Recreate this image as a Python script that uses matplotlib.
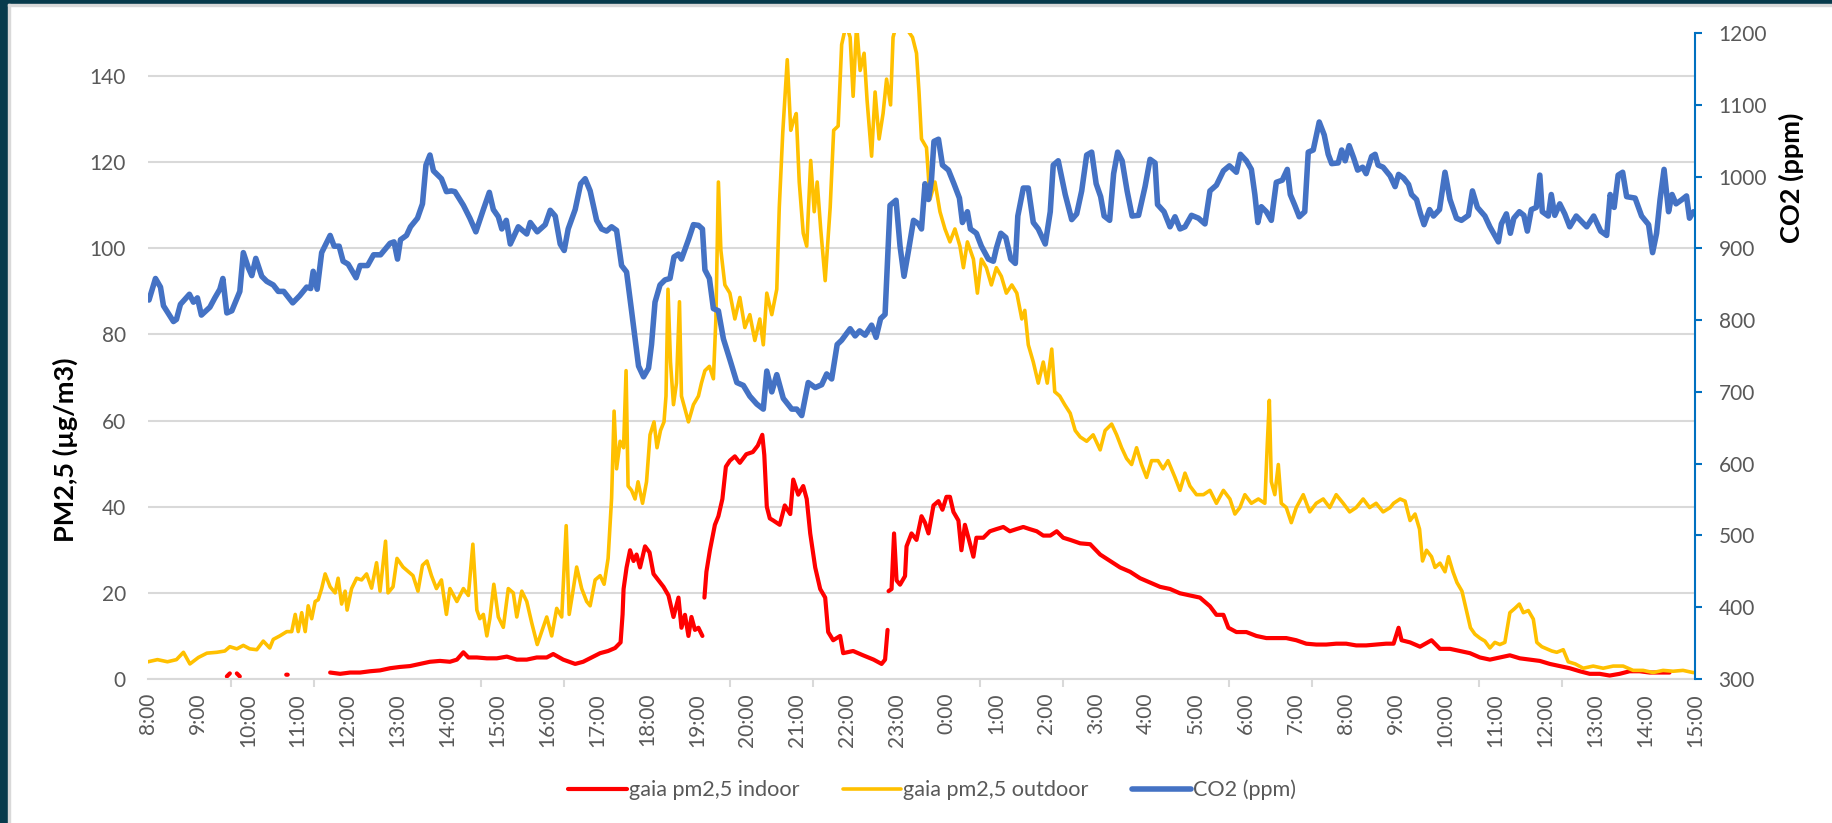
import numpy as np
import matplotlib
matplotlib.use("Agg")
from matplotlib import pyplot as plt
from matplotlib.patches import Rectangle

# time axis: hours after 8:00 (day 1) up to 15:00 (day 2)
hour_labels = ["8:00", "9:00", "10:00", "11:00", "12:00", "13:00", "14:00", "15:00",
               "16:00", "17:00", "18:00", "19:00", "20:00", "21:00", "22:00", "23:00",
               "0:00", "1:00", "2:00", "3:00", "4:00", "5:00", "6:00", "7:00",
               "8:00", "9:00", "10:00", "11:00", "12:00", "13:00", "14:00", "15:00"]

# CO2 (ppm), right axis
co2_t = [0.02, 0.15, 0.25, 0.31, 0.51, 0.57, 0.65, 0.83, 0.91, 0.99, 1.07, 1.24, 1.34, 1.44, 1.5, 1.58,
         1.68, 1.84, 1.91, 2.01, 2.08, 2.16, 2.28, 2.38, 2.51, 2.61, 2.72, 2.9, 3.04, 3.18, 3.26, 3.31,
         3.39, 3.48, 3.65, 3.73, 3.83, 3.91, 4.01, 4.17, 4.25, 4.4, 4.52, 4.66, 4.85, 4.93, 5.0, 5.06,
         5.18, 5.26, 5.4, 5.5, 5.57, 5.65, 5.72, 5.88, 5.98, 6.08, 6.15, 6.32, 6.45, 6.57, 6.72, 6.84,
         6.92, 7.02, 7.09, 7.18, 7.26, 7.42, 7.59, 7.66, 7.8, 7.96, 8.06, 8.16, 8.26, 8.34, 8.42, 8.56,
         8.67, 8.76, 8.86, 8.99, 9.09, 9.19, 9.29, 9.39, 9.49, 9.59, 9.69, 9.83, 9.93, 10.03, 10.09, 10.16,
         10.26, 10.36, 10.46, 10.54, 10.63, 10.69, 10.83, 10.93, 11.03, 11.11, 11.16, 11.25, 11.33, 11.43, 11.53, 11.66,
         11.8, 11.93, 12.06, 12.2, 12.33, 12.4, 12.5, 12.6, 12.73, 12.9, 13.0, 13.1, 13.23, 13.37, 13.5, 13.6,
         13.7, 13.81, 13.9, 14.07, 14.17, 14.26, 14.37, 14.5, 14.59, 14.68, 14.77, 14.87, 14.99, 15.07, 15.15, 15.24,
         15.34, 15.44, 15.5, 15.57, 15.64, 15.7, 15.75, 15.84, 15.92, 16.04, 16.15, 16.26, 16.32, 16.42, 16.48, 16.6,
         16.7, 16.84, 16.94, 17.0, 17.09, 17.19, 17.29, 17.38, 17.43, 17.54, 17.64, 17.74, 17.84, 17.98, 18.08, 18.14,
         18.24, 18.38, 18.51, 18.61, 18.71, 18.81, 18.91, 19.0, 19.09, 19.16, 19.27, 19.35, 19.43, 19.52, 19.62, 19.72,
         19.85, 19.98, 20.08, 20.18, 20.23, 20.36, 20.48, 20.58, 20.68, 20.78, 20.91, 21.05, 21.18, 21.28, 21.41, 21.55,
         21.67, 21.81, 21.89, 22.01, 22.11, 22.18, 22.24, 22.31, 22.41, 22.51, 22.61, 22.73, 22.83, 22.89, 22.98, 23.07,
         23.18, 23.25, 23.35, 23.47, 23.57, 23.65, 23.72, 23.85, 23.92, 23.99, 24.07, 24.16, 24.24, 24.34, 24.41, 24.52,
         24.59, 24.65, 24.75, 24.89, 24.99, 25.06, 25.16, 25.26, 25.32, 25.42, 25.5, 25.57, 25.68, 25.76, 25.88, 25.99,
         26.09, 26.22, 26.32, 26.46, 26.54, 26.64, 26.79, 26.89, 27.06, 27.12, 27.22, 27.3, 27.37, 27.48, 27.57, 27.64,
         27.72, 27.82, 27.89, 27.94, 28.06, 28.12, 28.19, 28.29, 28.39, 28.49, 28.62, 28.83, 28.97, 29.11, 29.23, 29.3,
         29.38, 29.46, 29.55, 29.63, 29.8, 29.93, 30.07, 30.15, 30.23, 30.3, 30.38, 30.47, 30.54, 30.62, 30.74, 30.83,
         30.89, 30.97]
co2_ppm = [828, 858, 846, 820, 798, 801, 822, 836, 825, 831, 807, 818, 831, 843, 858, 810,
           813, 840, 894, 873, 862, 886, 861, 854, 849, 840, 840, 824, 834, 846, 844, 868,
           843, 894, 918, 903, 903, 882, 878, 859, 876, 876, 891, 891, 907, 909, 885, 912,
           918, 930, 942, 962, 1016, 1030, 1008, 997, 979, 980, 979, 960, 942, 923, 954, 978,
           954, 944, 927, 939, 906, 930, 920, 936, 923, 933, 953, 945, 906, 897, 927, 954,
           990, 997, 980, 939, 927, 924, 930, 925, 876, 867, 813, 736, 721, 733, 766, 825,
           849, 856, 858, 888, 892, 885, 912, 933, 932, 927, 870, 858, 816, 813, 774, 745,
           713, 709, 694, 683, 676, 729, 700, 724, 691, 676, 676, 667, 713, 706, 710, 725,
           718, 766, 772, 788, 778, 785, 779, 793, 776, 802, 808, 960, 967, 903, 861, 897,
           939, 934, 927, 990, 968, 996, 1049, 1052, 1016, 1009, 990, 970, 936, 951, 927, 921,
           903, 885, 882, 900, 921, 915, 885, 879, 945, 984, 984, 936, 927, 906, 951, 1016,
           1022, 975, 940, 948, 980, 1030, 1034, 990, 972, 945, 939, 1004, 1034, 1022, 980, 945,
           946, 986, 1024, 1019, 961, 951, 930, 944, 927, 930, 946, 942, 934, 980, 988, 1008,
           1015, 1006, 1031, 1022, 1010, 975, 936, 958, 951, 939, 992, 995, 1010, 975, 960, 944,
           951, 1034, 1037, 1076, 1058, 1031, 1018, 1019, 1037, 1022, 1043, 1026, 1009, 1013, 1004, 1028,
           1031, 1016, 1013, 1001, 986, 1003, 998, 989, 975, 968, 948, 933, 954, 945, 954, 1006,
           968, 942, 939, 946, 980, 957, 945, 930, 909, 934, 948, 921, 942, 951, 946, 924,
           954, 957, 1002, 951, 945, 975, 946, 962, 948, 930, 945, 930, 945, 924, 918, 975,
           957, 1002, 1006, 972, 970, 945, 933, 894, 921, 968, 1010, 951, 975, 962, 968, 973,
           942, 951]

# gaia pm2,5 outdoor (ug/m3)
out_t = [0.0, 0.19, 0.39, 0.57, 0.71, 0.84, 1.01, 1.18, 1.38, 1.54, 1.64, 1.78, 1.91, 2.04, 2.18, 2.31,
         2.44, 2.51, 2.64, 2.78, 2.88, 2.95, 3.01, 3.08, 3.15, 3.21, 3.28, 3.35, 3.41, 3.48, 3.55, 3.65,
         3.75, 3.81, 3.88, 3.95, 3.99, 4.08, 4.18, 4.28, 4.38, 4.48, 4.58, 4.65, 4.76, 4.81, 4.91, 4.99,
         5.11, 5.21, 5.31, 5.41, 5.5, 5.59, 5.68, 5.78, 5.88, 5.98, 6.05, 6.19, 6.32, 6.42, 6.51, 6.59,
         6.65, 6.72, 6.79, 6.85, 6.93, 7.02, 7.12, 7.22, 7.32, 7.39, 7.49, 7.59, 7.69, 7.8, 7.89, 7.99,
         8.09, 8.19, 8.29, 8.38, 8.44, 8.51, 8.59, 8.69, 8.79, 8.86, 8.96, 9.06, 9.14, 9.22, 9.29, 9.34,
         9.39, 9.46, 9.53, 9.58, 9.62, 9.69, 9.76, 9.82, 9.91, 9.99, 10.06, 10.14, 10.2, 10.27, 10.34, 10.38,
         10.42, 10.47, 10.53, 10.59, 10.65, 10.69, 10.76, 10.83, 10.93, 11.03, 11.09, 11.16, 11.25, 11.33, 11.38, 11.43,
         11.48, 11.56, 11.66, 11.76, 11.86, 11.96, 12.06, 12.16, 12.26, 12.33, 12.4, 12.5, 12.6, 12.65, 12.72, 12.81,
         12.88, 12.93, 12.99, 13.05, 13.13, 13.2, 13.28, 13.35, 13.41, 13.48, 13.57, 13.67, 13.74, 13.83, 13.9, 13.99,
         14.07, 14.13, 14.2, 14.27, 14.35, 14.41, 14.5, 14.57, 14.65, 14.73, 14.8, 14.88, 14.93, 15.0, 15.14, 15.32,
         15.4, 15.45, 15.5, 15.6, 15.67, 15.77, 15.87, 15.97, 16.07, 16.17, 16.27, 16.34, 16.42, 16.54, 16.62, 16.7,
         16.8, 16.9, 17.0, 17.1, 17.2, 17.31, 17.41, 17.51, 17.57, 17.64, 17.74, 17.84, 17.94, 18.02, 18.11, 18.17,
         18.27, 18.37, 18.48, 18.58, 18.68, 18.81, 18.94, 19.08, 19.18, 19.31, 19.41, 19.51, 19.61, 19.71, 19.81, 19.91,
         20.01, 20.11, 20.24, 20.34, 20.44, 20.58, 20.68, 20.78, 20.88, 21.01, 21.15, 21.28, 21.41, 21.55, 21.68, 21.78,
         21.88, 21.98, 22.11, 22.25, 22.38, 22.43, 22.47, 22.51, 22.58, 22.65, 22.71, 22.81, 22.91, 23.01, 23.15, 23.28,
         23.41, 23.55, 23.68, 23.81, 23.95, 24.08, 24.21, 24.35, 24.48, 24.61, 24.75, 24.89, 24.96, 25.09, 25.19, 25.29,
         25.39, 25.48, 25.54, 25.62, 25.72, 25.79, 25.89, 25.99, 26.06, 26.15, 26.23, 26.33, 26.42, 26.5, 26.59, 26.69,
         26.79, 26.89, 26.99, 27.09, 27.19, 27.29, 27.39, 27.48, 27.56, 27.66, 27.76, 27.83, 27.93, 28.03, 28.13, 28.23,
         28.36, 28.46, 28.6, 28.76, 28.96, 29.16, 29.36, 29.56, 29.76, 29.96, 30.16, 30.36, 30.56, 30.76, 30.96, 31.0]
out_pm = [4.0, 4.5, 4.0, 4.5, 6.2, 3.5, 5.0, 6.0, 6.2, 6.5, 7.5, 7.0, 7.8, 7.0, 6.8, 8.8,
          7.2, 9.2, 10.0, 11.0, 11.0, 15.0, 11.0, 15.4, 11.0, 17.0, 14.0, 18.0, 18.4, 21.0, 24.4, 21.4,
          20.0, 23.4, 17.4, 20.4, 16.0, 21.0, 23.4, 23.0, 24.4, 21.1, 27.0, 20.4, 32.0, 20.0, 21.4, 28.0,
          26.0, 25.0, 24.0, 20.4, 26.4, 27.4, 24.0, 21.0, 23.0, 15.0, 21.0, 18.0, 21.0, 19.4, 31.3, 16.0,
          14.0, 15.0, 10.0, 14.0, 22.0, 14.4, 12.0, 21.0, 20.0, 14.4, 20.4, 18.0, 13.0, 8.0, 11.0, 14.4,
          10.0, 16.4, 14.4, 35.6, 15.0, 20.0, 26.0, 21.0, 18.0, 17.0, 23.0, 24.0, 22.0, 28.0, 42.0, 62.2,
          48.8, 55.2, 53.7, 71.6, 44.8, 43.8, 41.8, 45.8, 40.8, 45.8, 56.7, 59.7, 53.7, 57.7, 59.7, 65.7,
          90.5, 73.6, 63.7, 68.7, 87.6, 65.7, 62.7, 59.7, 63.7, 65.7, 68.7, 71.6, 72.6, 69.7, 83.6, 115.4,
          99.5, 91.5, 89.6, 83.6, 88.6, 81.6, 84.6, 78.6, 83.6, 77.6, 89.6, 84.6, 90.5, 109.5, 126.9, 143.8,
          127.4, 129.4, 131.3, 115.4, 103.5, 100.5, 120.4, 108.5, 115.4, 104.5, 92.5, 109.5, 127.4, 128.4, 147.3, 152.0,
          149.0, 135.3, 152.0, 141.3, 145.3, 134.3, 121.4, 136.3, 125.4, 131.3, 139.3, 133.3, 149.0, 152.0, 152.0, 149.0,
          145.3, 136.3, 125.4, 123.4, 111.4, 115.4, 108.5, 104.5, 101.5, 104.5, 100.5, 95.5, 101.5, 97.5, 89.6, 97.5,
          95.5, 91.5, 95.5, 93.5, 89.6, 91.5, 89.6, 83.6, 85.6, 77.6, 73.6, 68.7, 73.6, 68.7, 76.6, 66.7,
          65.7, 63.7, 61.7, 57.7, 56.2, 55.2, 56.7, 53.2, 57.7, 59.2, 56.7, 53.7, 51.2, 49.8, 53.7, 49.8,
          46.8, 50.7, 50.7, 48.8, 50.7, 46.8, 43.8, 47.8, 44.8, 42.8, 42.8, 43.8, 40.8, 43.8, 41.8, 38.3,
          39.8, 42.8, 40.8, 41.8, 40.8, 54.7, 64.7, 45.8, 42.8, 49.8, 40.8, 39.8, 36.3, 39.8, 42.8, 38.8,
          40.8, 41.8, 39.8, 42.8, 40.8, 38.8, 39.8, 41.8, 39.8, 40.8, 38.8, 39.8, 40.8, 41.8, 41.3, 36.8,
          38.3, 34.8, 27.4, 29.9, 28.4, 25.9, 26.9, 24.9, 28.4, 24.9, 22.4, 20.4, 15.9, 11.9, 10.4, 9.5,
          8.8, 7.2, 8.5, 8.0, 8.5, 15.4, 16.4, 17.4, 15.4, 15.9, 13.9, 8.5, 7.5, 7.0, 6.5, 6.2,
          6.8, 4.0, 3.5, 2.5, 3.0, 2.5, 3.0, 3.0, 2.0, 2.0, 1.5, 2.0, 1.8, 2.0, 1.5, 1.5]

# gaia pm2,5 indoor (ug/m3), nan = no data
in_t = [1.58, 1.64, np.nan, 1.78, 1.84, np.nan, 2.77, 2.80, np.nan,
        3.65, 3.85, 4.05, 4.25, 4.45, 4.65, 4.85, 5.05, 5.25, 5.45, 5.65, 5.85, 6.05, 6.19, 6.32, 6.42,
        6.59, 6.79, 6.99, 7.19, 7.39, 7.59, 7.79, 7.99, 8.12, 8.32, 8.56, 8.72, 8.89, 9.06, 9.22, 9.36,
        9.47, 9.51, 9.53, 9.59, 9.66, 9.73, 9.79, 9.86, 9.96, 10.05, 10.13, 10.23, 10.33, 10.43, 10.53, 10.63,
        10.69, 10.76, 10.83, 10.89, 10.96, 11.03, 11.11, np.nan,
        11.15, 11.19, 11.26, 11.36, 11.43, 11.51, 11.58, 11.66, 11.76, 11.86, 11.99, 12.12, 12.22, 12.31, 12.35, 12.4,
        12.46, 12.53, 12.66, 12.76, 12.87, 12.93, 13.03, 13.13, 13.2, 13.27, 13.37, 13.47, 13.57, 13.63, 13.73, 13.87,
        13.93, 14.13, 14.33, 14.54, 14.7, 14.77, 14.82, np.nan,
        14.84, 14.9, 14.95, 15.0, 15.07, 15.17, 15.2, 15.3, 15.4, 15.5, 15.57, 15.64, 15.74, 15.84, 15.92, 16.0,
        16.07, 16.14, 16.24, 16.3, 16.37, 16.44, 16.54, 16.6, 16.74, 16.87, 17.0, 17.14, 17.27, 17.4, 17.54, 17.67,
        17.81, 17.94, 18.08, 18.21, 18.34, 18.48, 18.68, 18.88, 19.08, 19.28, 19.48, 19.68, 19.88, 20.08, 20.28, 20.48,
        20.68, 20.88, 21.08, 21.28, 21.41, 21.55, 21.65, 21.81, 22.01, 22.21, 22.41, 22.61, 22.81, 23.01, 23.21, 23.41,
        23.61, 23.81, 24.01, 24.21, 24.41, 24.61, 24.81, 24.96, 25.06, 25.12, 25.29, 25.49, 25.72, 25.89, 26.09, 26.29,
        26.49, 26.69, 26.89, 27.09, 27.29, 27.49, 27.69, 27.89, 28.09, 28.29, 28.49, 28.69, 28.89, 29.09, 29.29, 29.49,
        29.69, 29.89, 30.09, 30.29, 30.49]
in_pm = [0.6, 1.3, np.nan, 1.3, 0.6, np.nan, 1.0, 1.0, np.nan,
         1.5, 1.2, 1.5, 1.5, 1.8, 2.0, 2.5, 2.8, 3.0, 3.5, 4.0, 4.2, 4.0, 4.5, 6.2, 5.0,
         5.0, 4.8, 4.8, 5.2, 4.5, 4.5, 5.0, 5.0, 5.8, 4.5, 3.5, 4.0, 5.0, 6.0, 6.5, 7.2,
         8.5, 15.0, 20.9, 25.9, 29.9, 27.4, 28.9, 25.9, 30.8, 29.4, 24.4, 22.9, 21.4, 19.4, 14.4, 18.9,
         11.9, 14.9, 10.0, 14.4, 11.4, 11.9, 10.0, np.nan,
         18.9, 24.9, 29.9, 35.8, 37.8, 41.8, 49.3, 50.7, 51.7, 50.2, 52.2, 52.7, 54.2, 56.7, 52.0, 40.0,
         37.3, 36.8, 35.8, 40.3, 38.3, 46.3, 42.8, 44.8, 41.8, 33.8, 25.9, 20.9, 18.9, 10.9, 9.0, 10.0,
         6.0, 6.5, 5.5, 4.5, 3.5, 4.5, 11.4, np.nan,
         20.4, 20.9, 33.8, 22.9, 21.9, 23.9, 30.8, 33.8, 32.3, 37.8, 36.3, 33.8, 40.3, 41.3, 39.3, 42.3,
         42.3, 38.8, 36.8, 29.9, 35.8, 32.8, 28.4, 32.8, 32.8, 34.3, 34.8, 35.3, 34.3, 34.8, 35.3, 34.8,
         34.3, 33.3, 33.3, 34.3, 32.8, 32.3, 31.5, 31.3, 28.9, 27.4, 25.9, 24.9, 23.4, 22.4, 21.4, 20.9,
         19.9, 19.4, 18.9, 16.9, 14.9, 14.9, 11.9, 10.9, 10.9, 10.0, 9.5, 9.5, 9.5, 9.0, 8.2, 8.0,
         8.0, 8.2, 8.2, 7.8, 7.8, 8.0, 8.2, 8.2, 11.9, 9.0, 8.5, 7.5, 9.0, 7.0, 7.0, 6.5,
         6.0, 5.0, 4.5, 5.0, 5.5, 4.8, 4.5, 4.2, 3.5, 3.0, 2.5, 1.8, 1.2, 1.2, 0.8, 1.2,
         1.8, 1.8, 1.5, 1.5, 1.5]

plt.rcParams['font.family'] = ['Lato', 'DejaVu Sans']

fig = plt.figure(figsize=(18.32, 8.23), dpi=100)
fig.patch.set_facecolor('white')

# dunkler Rahmen links und oben
fig.patches.append(Rectangle((0, 0), 8 / 1832, 1, transform=fig.transFigure, color='#073B4C', zorder=0))
fig.patches.append(Rectangle((0, 1 - 4 / 823), 1, 4 / 823, transform=fig.transFigure, color='#073B4C', zorder=0))
fig.patches.append(Rectangle((8 / 1832, 0), 2 / 1832, 1 - 4 / 823, transform=fig.transFigure, color='#D9D9D9', zorder=0))
fig.patches.append(Rectangle((8 / 1832, 1 - 6 / 823), 1, 2 / 823, transform=fig.transFigure, color='#D9D9D9', zorder=0))

ax = fig.add_axes([148 / 1832, 1 - 679 / 823, (1695 - 148) / 1832, (679 - 33) / 823])
ax2 = ax.twinx()

gray = '#595959'
grid = '#D9D9D9'
blue_axis = '#0070C0'

l1, = ax.plot(in_t, in_pm, color='#FF0000', lw=3.0, solid_joinstyle='round', solid_capstyle='round',
              label='gaia pm2,5 indoor')
l2, = ax.plot(out_t, out_pm, color='#FFC000', lw=2.6, solid_joinstyle='round', solid_capstyle='round',
              label='gaia pm2,5 outdoor')
l3, = ax2.plot(co2_t, co2_ppm, color='#4472C4', lw=4.0, solid_joinstyle='round', solid_capstyle='round',
               label='CO2 (ppm)')

ax.set_xlim(0, 31)
ax.set_ylim(0, 150)
ax2.set_ylim(300, 1200)

# x-Achse: Beschriftung jede Stunde, Teilstriche alle 100 Minuten
ax.set_xticks(np.arange(0, 32))
ax.set_xticklabels(hour_labels, rotation=90, fontsize=15, color=gray)
ax.set_xticks(np.arange(0, 31.01, 100 / 60), minor=True)
ax.tick_params(axis='x', which='major', length=0, pad=10)
ax.tick_params(axis='x', which='minor', length=6, width=1.5, color=grid)

ax.set_yticks(np.arange(0, 141, 20))
ax.tick_params(axis='y', which='major', length=0, pad=16, labelsize=15, labelcolor=gray)
ax.yaxis.grid(True, color=grid, lw=1.5)
ax.set_axisbelow(True)

for s in ['left', 'top', 'right']:
    ax.spines[s].set_visible(False)
ax.spines['bottom'].set_color(grid)
ax.spines['bottom'].set_linewidth(1.5)

ax2.set_yticks(np.arange(300, 1201, 100))
ax2.tick_params(axis='y', which='major', length=5, width=1.5, color=blue_axis, pad=12,
                labelsize=15, labelcolor=gray)
for s in ['left', 'top', 'bottom']:
    ax2.spines[s].set_visible(False)
ax2.spines['right'].set_color(blue_axis)
ax2.spines['right'].set_linewidth(1.5)

fig.text(65 / 1832, 1 - 450 / 823, 'PM2,5 (µg/m3)', rotation=90, ha='center', va='center',
         fontsize=19.5, fontweight='bold')
fig.text(1791 / 1832, 1 - 178 / 823, 'CO2 (ppm)', rotation=90, ha='center', va='center',
         fontsize=19.5, fontweight='bold')

fig.legend(handles=[l1, l2, l3], loc='center', bbox_to_anchor=(932 / 1832, 1 - 790 / 823),
           ncol=3, frameon=False, fontsize=15.6, handlelength=2.7, handletextpad=0.1,
           columnspacing=2.0, labelcolor=gray)

fig.savefig('out.png', dpi=100, facecolor='white')
